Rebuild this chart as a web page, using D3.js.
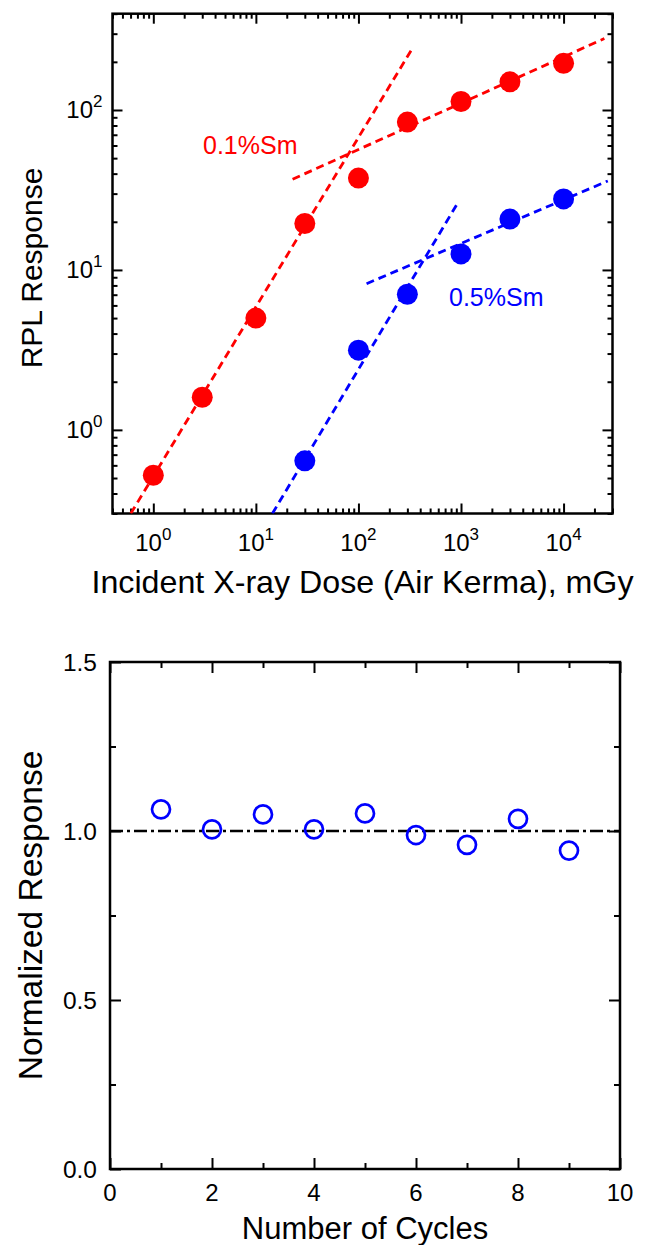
<!DOCTYPE html>
<html>
<head>
<meta charset="utf-8">
<script src="https://cdn.jsdelivr.net/npm/d3@7"></script>
<style>
html,body{margin:0;padding:0;background:#fff;}
svg{display:block;font-family:"Liberation Sans",Arial,Helvetica,sans-serif;}
</style>
</head>
<body>
<svg id="chart" width="648" height="1245"></svg>
<script>
// ---------- data: top panel ----------
const dose01 = [1, 3, 10, 30, 100, 300, 1000, 3000, 10000];
const resp01 = [0.52, 1.6, 5.0, 19.5, 37.5, 84, 113, 150, 196];
const dose05 = [30, 100, 300, 1000, 3000, 10000];
const resp05 = [0.64, 3.15, 7.05, 12.6, 20.8, 27.8];
// fitted guide lines (endpoints in data units)
const fit01Steep = [[0.603, 0.3], [336, 243]];
const fit01Flat  = [[22.8, 36.9], [25000, 280]];
const fit05Steep = [[14.5, 0.3], [955, 27]];
const fit05Flat  = [[120, 8.2], [27000, 36]];
const xMajorTop = [1, 10, 100, 1000, 10000];
const xMajorExp = ["0", "1", "2", "3", "4"];
const yMajorTop = [1, 10, 100];
const yMajorExp = ["0", "1", "2"];
// ---------- data: bottom panel ----------
const cycles = [1, 2, 3, 4, 5, 6, 7, 8, 9];
const normResp = [1.064, 1.005, 1.049, 1.005, 1.052, 0.988, 0.959, 1.036, 0.942];
const refLevel = [1.0];
const xTicksBot = [0, 2, 4, 6, 8, 10];
const xMinorBot = [1, 3, 5, 7, 9];
const yTicksBot = [0, 0.5, 1.0, 1.5];
const yMinorBot = [0.25, 0.75, 1.25];

const svg = d3.select("#chart");
const RED = "#ff0000", BLUE = "#0000ff";
const FONT_TICK = 24;

// ================= TOP PANEL =================
const x = d3.scaleLog().domain([0.4, 30000]).range([112.5, 612.5]);
const y = d3.scaleLog().domain([0.3, 400]).range([513.5, 13.7]);
const gTop = svg.append("g");

svg.append("defs").append("clipPath").attr("id", "clipTop")
  .append("rect").attr("x", x.range()[0]).attr("y", y.range()[1])
  .attr("width", x.range()[1] - x.range()[0]).attr("height", y.range()[0] - y.range()[1]);

const isPow10 = v => Math.abs(Math.log10(v) - Math.round(Math.log10(v))) < 1e-9;
const xMinorTop = x.ticks().filter(v => !isPow10(v));
const yMinorTop = y.ticks().filter(v => !isPow10(v));

function tickAxis(g, axisFn, scale, vals, size) {
  g.call(axisFn(scale).tickValues(vals).tickSize(size).tickFormat(""));
  g.select(".domain").remove();
  g.selectAll(".tick line").attr("stroke", "#000").attr("stroke-width", 2);
}
const x0 = x.range()[0], x1 = x.range()[1], yb = y.range()[0], yt = y.range()[1];
tickAxis(gTop.append("g").attr("transform", `translate(0,${yb})`), d3.axisBottom, x, xMajorTop, -10);
tickAxis(gTop.append("g").attr("transform", `translate(0,${yb})`), d3.axisBottom, x, xMinorTop, -5);
tickAxis(gTop.append("g").attr("transform", `translate(0,${yt})`), d3.axisTop, x, xMajorTop, -10);
tickAxis(gTop.append("g").attr("transform", `translate(0,${yt})`), d3.axisTop, x, xMinorTop, -5);
tickAxis(gTop.append("g").attr("transform", `translate(${x0},0)`), d3.axisLeft, y, yMajorTop, -10);
tickAxis(gTop.append("g").attr("transform", `translate(${x0},0)`), d3.axisLeft, y, yMinorTop, -5);
tickAxis(gTop.append("g").attr("transform", `translate(${x1},0)`), d3.axisRight, y, yMajorTop, -10);
tickAxis(gTop.append("g").attr("transform", `translate(${x1},0)`), d3.axisRight, y, yMinorTop, -5);

gTop.append("rect").attr("x", x0).attr("y", yt).attr("width", x1 - x0).attr("height", yb - yt)
  .attr("fill", "none").attr("stroke", "#000").attr("stroke-width", 2.5);

// tick labels with superscripts
xMajorTop.forEach((v, i) => {
  const t = gTop.append("text").attr("x", x(v)).attr("y", 551).attr("text-anchor", "middle")
    .attr("font-size", FONT_TICK).attr("fill", "#000");
  t.append("tspan").text("10");
  t.append("tspan").attr("dy", -11).attr("font-size", 17).text(xMajorExp[i]);
});
yMajorTop.forEach((v, i) => {
  const t = gTop.append("text").attr("x", x0 - 10).attr("y", y(v) + 8.5).attr("text-anchor", "end")
    .attr("font-size", FONT_TICK).attr("fill", "#000");
  t.append("tspan").text("10");
  t.append("tspan").attr("dy", -11).attr("font-size", 17).text(yMajorExp[i]);
});

// fit lines
const lineGen = d3.line().x(d => x(d[0])).y(d => y(d[1]));
const fits = gTop.append("g").attr("clip-path", "url(#clipTop)");
[[fit01Steep, RED], [fit01Flat, RED], [fit05Steep, BLUE], [fit05Flat, BLUE]].forEach(([pts, c]) => {
  fits.append("path").attr("d", lineGen(pts)).attr("fill", "none").attr("stroke", c)
    .attr("stroke-width", 2.8).attr("stroke-dasharray", "8,5");
});

// points
gTop.append("g").selectAll("circle").data(dose01.map((d, i) => [d, resp01[i]])).join("circle")
  .attr("cx", d => x(d[0])).attr("cy", d => y(d[1])).attr("r", 10.5).attr("fill", RED);
gTop.append("g").selectAll("circle").data(dose05.map((d, i) => [d, resp05[i]])).join("circle")
  .attr("cx", d => x(d[0])).attr("cy", d => y(d[1])).attr("r", 10.5).attr("fill", BLUE);

// series labels
gTop.append("text").attr("x", 203).attr("y", 154).attr("font-size", 25).attr("fill", RED).text("0.1%Sm");
gTop.append("text").attr("x", 449).attr("y", 306).attr("font-size", 25).attr("fill", BLUE).text("0.5%Sm");

// titles
gTop.append("text").attr("x", (x0 + x1) / 2).attr("y", 593).attr("text-anchor", "middle")
  .attr("font-size", 32.2).text("Incident X-ray Dose (Air Kerma), mGy");
gTop.append("text").attr("transform", `translate(41.5,268) rotate(-90)`)
  .attr("text-anchor", "middle").attr("font-size", 30).text("RPL Response");

// ================= BOTTOM PANEL =================
const x2 = d3.scaleLinear().domain([0, 10]).range([110, 620]);
const y2 = d3.scaleLinear().domain([0, 1.5]).range([1169, 662]);
const gBot = svg.append("g");
const bx0 = x2.range()[0], bx1 = x2.range()[1], byb = y2.range()[0], byt = y2.range()[1];

tickAxis(gBot.append("g").attr("transform", `translate(0,${byb})`), d3.axisBottom, x2, xTicksBot, -11);
tickAxis(gBot.append("g").attr("transform", `translate(0,${byb})`), d3.axisBottom, x2, xMinorBot, -6);
tickAxis(gBot.append("g").attr("transform", `translate(0,${byt})`), d3.axisTop, x2, xTicksBot, -11);
tickAxis(gBot.append("g").attr("transform", `translate(0,${byt})`), d3.axisTop, x2, xMinorBot, -6);
tickAxis(gBot.append("g").attr("transform", `translate(${bx0},0)`), d3.axisLeft, y2, yTicksBot, -11);
tickAxis(gBot.append("g").attr("transform", `translate(${bx0},0)`), d3.axisLeft, y2, yMinorBot, -6);
tickAxis(gBot.append("g").attr("transform", `translate(${bx1},0)`), d3.axisRight, y2, yTicksBot, -11);
tickAxis(gBot.append("g").attr("transform", `translate(${bx1},0)`), d3.axisRight, y2, yMinorBot, -6);

gBot.append("rect").attr("x", bx0).attr("y", byt).attr("width", bx1 - bx0).attr("height", byb - byt)
  .attr("fill", "none").attr("stroke", "#000").attr("stroke-width", 2.5);

xTicksBot.forEach(v => {
  gBot.append("text").attr("x", x2(v)).attr("y", 1201).attr("text-anchor", "middle")
    .attr("font-size", FONT_TICK).text(d3.format("d")(v));
});
yTicksBot.forEach(v => {
  gBot.append("text").attr("x", bx0 - 13).attr("y", y2(v) + 8.5).attr("text-anchor", "end")
    .attr("font-size", 24.5).text(d3.format(".1f")(v));
});

// reference dash-dot line
gBot.append("g").selectAll("line").data(refLevel).join("line")
  .attr("x1", bx0).attr("x2", bx1).attr("y1", d => y2(d)).attr("y2", d => y2(d))
  .attr("stroke", "#000").attr("stroke-width", 2.5).attr("stroke-dasharray", "13,4,3,4");

// open circles
gBot.append("g").selectAll("circle").data(cycles.map((c, i) => [c, normResp[i]])).join("circle")
  .attr("cx", d => x2(d[0])).attr("cy", d => y2(d[1])).attr("r", 9)
  .attr("fill", "none").attr("stroke", BLUE).attr("stroke-width", 2.7);

gBot.append("text").attr("x", (bx0 + bx1) / 2).attr("y", 1239).attr("text-anchor", "middle")
  .attr("font-size", 31).text("Number of Cycles");
gBot.append("text").attr("transform", `translate(42,${(byt + byb) / 2}) rotate(-90)`)
  .attr("text-anchor", "middle").attr("font-size", 33.5).text("Normalized Response");
</script>
</body>
</html>
